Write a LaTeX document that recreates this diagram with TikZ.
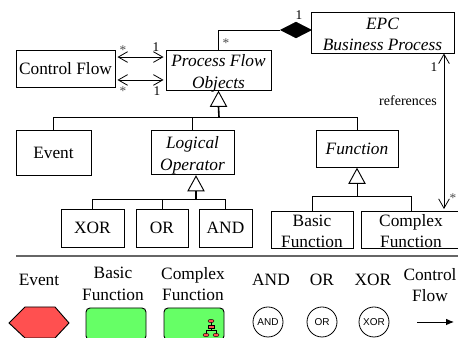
\documentclass[tikz,border=0pt]{standalone}
\usepackage{fontspec}
\setmainfont{Liberation Serif}
\setsansfont{Liberation Sans}
\usetikzlibrary{arrows.meta,shapes.geometric}
\newcommand{\twolines}[2]{\raisebox{-5.4pt}[0pt][0pt]{\begin{tabular}{@{}c@{}}#1\\#2\end{tabular}}}
\newcommand{\oneline}[1]{\raisebox{-4.5pt}[0pt][0pt]{#1}}
\tikzset{
  umlbox/.style={draw=black, line width=0.7pt, align=center, inner sep=0pt, font=\fontsize{13}{16}\selectfont},
  legendtext/.style={align=center, inner sep=0pt, font=\fontsize{13}{16}\selectfont},
  mult/.style={inner sep=0pt, font=\fontsize{10}{12}\selectfont},
  inherit/.style={draw=black, fill=white, line width=0.7pt, shape=isosceles triangle, shape border rotate=90, isosceles triangle stretches, minimum width=12pt, minimum height=11pt, inner sep=0pt, anchor=apex},
  link/.style={line width=0.7pt},
  stem/.style={line width=1.2pt},
  openend/.style={line width=0.6pt, {Straight Barb[length=7pt,width=8pt]}-{Straight Barb[length=7pt,width=8pt]}},
  gatecircle/.style={draw=black, circle, line width=0.6pt, minimum size=22.5pt, inner sep=0pt, font=\sffamily\fontsize{7.5}{9}\selectfont},
  greenbox/.style={draw=black, fill=funcgreen, rounded corners=3pt, line width=0.7pt, minimum width=45pt, minimum height=24pt, inner sep=0pt},
  iconpart/.style={draw=black, fill=eventred, line width=0.3pt, inner sep=0pt},
}
\definecolor{eventred}{RGB}{255,80,80}
\definecolor{funcgreen}{RGB}{102,255,102}
\begin{document}
\begin{tikzpicture}[%
x=0.75pt,y=-0.75pt,
]
\useasboundingbox (0,0) rectangle (458,338);
\clip (0,0) rectangle (458,338);
%% class boxes;
\node[umlbox, minimum width=74.25pt, minimum height=27.75pt] (cflow) at (65.5,68.5) {\oneline{Control Flow}};
\node[umlbox, minimum width=78.75pt, minimum height=30pt] (pfo) at (218.5,70) {\twolines{\itshape Process Flow}{\itshape Objects}};
\node[umlbox, minimum width=107.25pt, minimum height=30.75pt] (epc) at (382.5,32.5) {\twolines{\itshape EPC}{\itshape Business Process}};
\node[umlbox, minimum width=56.25pt, minimum height=33.75pt] (event) at (53.5,152.5) {Event};
\node[umlbox, minimum width=62.25pt, minimum height=33pt] (logop) at (192.5,152) {\twolines{\itshape Logical}{\itshape Operator}};
\node[umlbox, minimum width=61.5pt, minimum height=27.75pt] (func) at (357,148.5) {\oneline{\itshape Function}};
\node[umlbox, minimum width=47.25pt, minimum height=28.5pt] (xor) at (92.5,228) {\oneline{XOR}};
\node[umlbox, minimum width=39pt, minimum height=28.5pt] (or) at (162,228) {\oneline{OR}};
\node[umlbox, minimum width=39.75pt, minimum height=28.5pt] (and) at (225.5,228) {\oneline{AND}};
\node[umlbox, minimum width=61.5pt, minimum height=27.75pt] (basic) at (312,229.5) {\twolines{Basic}{Function}};
\node[umlbox, minimum width=75pt, minimum height=27.75pt] (complex) at (411,229.5) {\twolines{Complex}{Function}};
%% aggregation;
\node[draw=black, fill=black, shape=diamond, minimum width=23.25pt, minimum height=12pt, inner sep=0pt] (owner) at (296,30) {};
\draw[link] (pfo.north) |- (owner.west);
\draw[link] (owner.east) -- (owner.east -| epc.west);
\node[mult] (m1) at (299,15) {1};
\node[mult, text=black!70] (m2) at (226,43) {*};
%% control flow arrows;
\draw[openend, shorten <=1.5pt, shorten >=1.5pt] ([yshift=8.6pt]cflow.east) -- ([yshift=8.6pt]cflow.east -| pfo.west);
\draw[openend, shorten <=1.5pt, shorten >=1.5pt] ([yshift=-8.6pt]cflow.east) -- ([yshift=-8.6pt]cflow.east -| pfo.west);
\node[mult, text=black!70] (m3) at (123,50) {*};
\node[mult] (m4) at (156,47) {1};
\node[mult, text=black!70] (m5) at (123,91) {*};
\node[mult] (m6) at (157,91) {1};
%% inheritance;
\node[inherit] (gen1) at (pfo.south) {};
\coordinate (bar1) at (219,117);
\draw[stem] (gen1.south) -- (bar1);
\draw[link] (event.north) |- (bar1);
\draw[link] (logop.north) |- (bar1);
\draw[link] (func.north) |- (bar1);
\node[inherit] (gen2) at (196,175) {};
\coordinate (bar2) at (196,199);
\draw[stem] (gen2.south) -- (bar2);
\draw[link] (xor.north) |- (bar2);
\draw[link] (or.north) |- (bar2);
\draw[link] (and.north) |- (bar2);
\node[inherit] (gen3) at (func.south) {};
\coordinate (bar3) at (357,196);
\draw[link] (gen3.south) -- (bar3);
\draw[link] (basic.north) |- (bar3);
\draw[link] (complex.north) |- (bar3);
%% references;
\coordinate (refend) at (444,209);
\draw[openend] (epc.south -| refend) -- (refend);
\node[mult, font=\fontsize{10.5}{12}\selectfont] (reflabel) at (408,101) {references};
\node[mult] (m7) at (434,67) {1};
\node[mult, text=black!70] (m8) at (453,198) {*};
%% separator;
\draw[line width=1pt, black!60] (16,256) -- (458,256);
%% legend;
\node[legendtext] (t1) at (39,280) {Event};
\node[legendtext] (t2) at (113,284) {Basic\\Function};
\node[legendtext] (t3) at (193,284) {Complex\\Function};
\node[legendtext] (t4) at (271,280) {AND};
\node[legendtext] (t5) at (322,280) {OR};
\node[legendtext] (t6) at (373,280) {XOR};
\node[legendtext] (t7) at (430,285) {Control\\Flow};
\draw[fill=eventred, line width=0.7pt] (9,323) -- (25,307) -- (55,307) -- (69,323) -- (55,338) -- (25,338) -- cycle;
\node[greenbox] (g1) at (116,324) {};
\node[greenbox] (g2) at (194,324) {};
\node[gatecircle] (c1) at (268,322) {AND};
\node[gatecircle] (c2) at (322,322) {OR};
\node[gatecircle] (c3) at (374,322) {XOR};
\coordinate (flowa) at (417,322);
\coordinate (flowb) at (454,322);
\draw[line width=0.7pt, -{Latex[length=6pt,width=5pt]}] (flowa) -- (flowb);
%% icon;
\draw[line width=0.3pt] (211,322) -- (211,330) (206,330) -- (216,330) (206,330) -- (206,335) (216,330) -- (216,335);
\node[iconpart, ellipse, minimum width=4.5pt, minimum height=2.5pt] (i1) at (211,321) {};
\node[iconpart, rectangle, minimum width=4.5pt, minimum height=2.5pt] (i2) at (211,327) {};
\node[iconpart, ellipse, minimum width=4.5pt, minimum height=2.5pt] (i3) at (206,335) {};
\node[iconpart, ellipse, minimum width=4.5pt, minimum height=2.5pt] (i4) at (216,335) {};
\end{tikzpicture}
\end{document}
